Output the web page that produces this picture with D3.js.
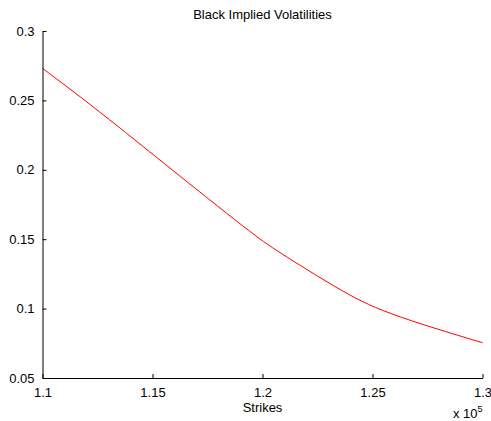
<!DOCTYPE html>
<html>
<head>
<meta charset="utf-8">
<script src="https://cdn.jsdelivr.net/npm/d3@7"></script>
<style>
  html, body { margin: 0; padding: 0; background: #fff; }
  svg { display: block; }
  text { font-family: "Liberation Sans", Arial, Helvetica, sans-serif; fill: #000; }
</style>
</head>
<body>
<script>
// Data
const strikes = [110000, 111710, 113530, 115890, 119070, 120890, 123340, 125880, 130000];
const vols    = [0.2731, 0.2526, 0.2300, 0.2000, 0.1600, 0.1394, 0.1155, 0.0962, 0.0754];
const xTicks = [110000, 115000, 120000, 125000, 130000];
const xTickLabels = ["1.1", "1.15", "1.2", "1.25", "1.3"];
const yTicks = [0.05, 0.1, 0.15, 0.2, 0.25, 0.3];
const yTickLabels = ["0.05", "0.1", "0.15", "0.2", "0.25", "0.3"];
const title = "Black Implied Volatilities";
const xLabel = "Strikes";

const W = 491, H = 421;
const L = 42.5, R = 482.5, T = 31, B = 378;

const svg = d3.select("body").append("svg").attr("width", W).attr("height", H);

const x = d3.scaleLinear().domain([110000, 130000]).range([L, R]);
const y = d3.scaleLinear().domain([0.05, 0.3]).range([B, T]);

// curve
const line = d3.line().x((d, i) => x(strikes[i])).y((d, i) => y(vols[i])).curve(d3.curveNatural);
svg.append("path").datum(vols).attr("d", line)
  .attr("fill", "none").attr("stroke", "#ff0000").attr("stroke-width", 1);

// x axis
const xAxis = d3.axisBottom(x).tickValues(xTicks).tickSizeInner(-4).tickSizeOuter(0)
  .tickFormat((d, i) => xTickLabels[i]).tickPadding(10);
const gx = svg.append("g").attr("transform", `translate(0,${B})`).call(xAxis);
gx.select(".domain").attr("stroke", "#000");
gx.selectAll(".tick line").attr("stroke", "#000");
gx.selectAll(".tick text").attr("font-size", 13).attr("font-family", "Liberation Sans, Arial, sans-serif").attr("fill", "#000");

// y axis
const yAxis = d3.axisLeft(y).tickValues(yTicks).tickSizeInner(-4).tickSizeOuter(0)
  .tickFormat((d, i) => yTickLabels[i]).tickPadding(8);
const gy = svg.append("g").attr("transform", `translate(${L},0)`).call(yAxis);
gy.select(".domain").attr("stroke", "#000");
gy.selectAll(".tick line").attr("stroke", "#000");
gy.selectAll(".tick text").attr("font-size", 13).attr("font-family", "Liberation Sans, Arial, sans-serif").attr("fill", "#000");

// title
svg.append("text").attr("x", (L + R) / 2).attr("y", 18.5).attr("text-anchor", "middle")
  .attr("font-size", 13).text(title);

// x label
svg.append("text").attr("x", (L + R) / 2).attr("y", 411.5).attr("text-anchor", "middle")
  .attr("font-size", 13).text(xLabel);

// exponent
const ex = svg.append("text").attr("x", R).attr("y", 418).attr("text-anchor", "end").attr("font-size", 13);
ex.append("tspan").text("x 10");
ex.append("tspan").attr("dy", -6).attr("font-size", 9).text("5");
</script>
</body>
</html>
